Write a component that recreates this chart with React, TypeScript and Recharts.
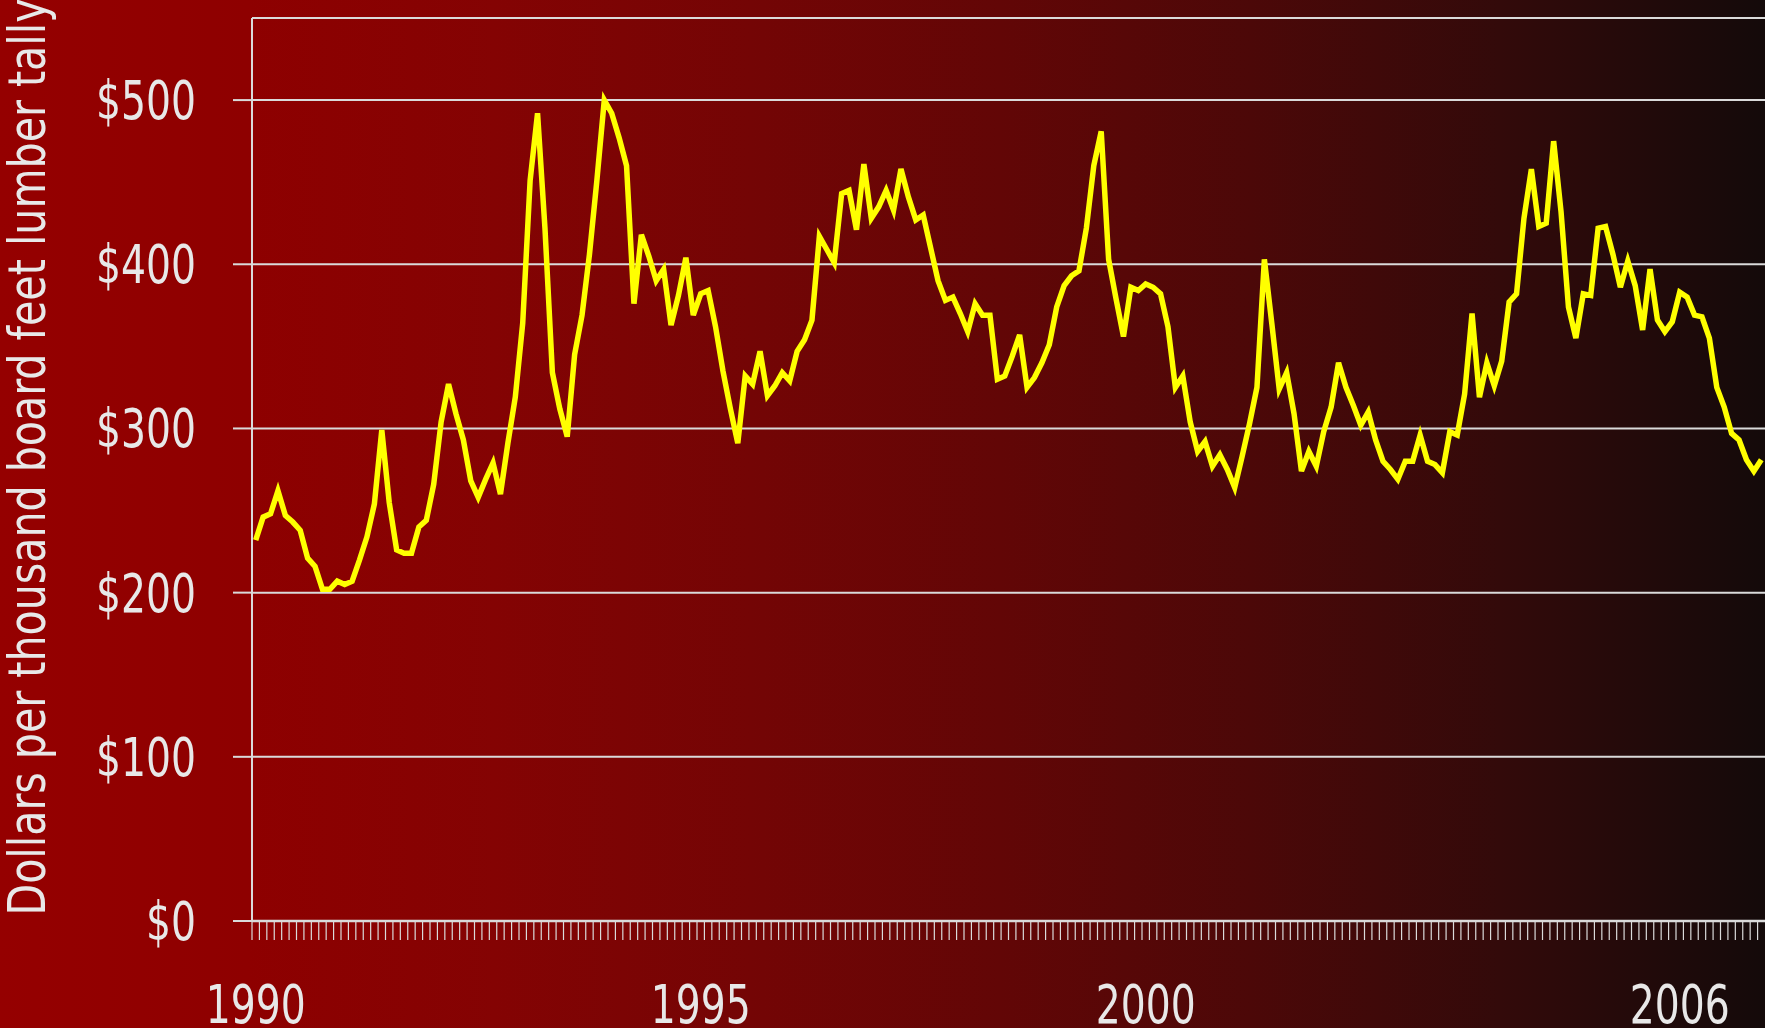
import React from 'react';
import {LineChart, Line, XAxis, YAxis, CartesianGrid, ReferenceLine, Label} from 'recharts';

// monthly lumber price, Jan 1990 .. Dec 2006
const startYear = 1990;
const prices = [
  232, 246, 248, 262, 247, 243, 238, 221, 216, 202, 202, 207,
  205, 207, 220, 234, 254, 299, 255, 226, 224, 224, 240, 244,
  266, 304, 327, 309, 293, 268, 258, 269, 279, 260, 291, 319,
  364, 451, 492, 422, 334, 312, 295, 345, 369, 406, 451, 500,
  492, 477, 460, 376, 418, 405, 390, 397, 363, 381, 404, 369,
  382, 384, 362, 335, 312, 291, 332, 327, 347, 320, 326, 334,
  329, 347, 354, 366, 417, 409, 401, 443, 445, 421, 461, 428,
  435, 445, 433, 458, 441, 427, 430, 410, 390, 378, 380, 370,
  359, 376, 369, 369, 330, 332, 344, 357, 325, 331, 340, 351,
  374, 387, 393, 396, 422, 460, 481, 403, 379, 356, 386, 384,
  388, 386, 382, 362, 325, 332, 304, 286, 292, 277, 284, 275,
  264, 283, 303, 325, 403, 364, 324, 334, 309, 274, 286, 277,
  298, 313, 340, 325, 314, 302, 310, 293, 280, 275, 269, 280,
  280, 296, 280, 278, 273, 298, 296, 321, 370, 319, 340, 326,
  341, 377, 382, 428, 458, 423, 425, 475, 432, 374, 355, 382,
  381, 422, 423, 406, 386, 402, 387, 360, 397, 366, 359, 365,
  383, 380, 369, 368, 355, 325, 313, 297, 293, 281, 274, 281,
];
const yearLabels = [1990, 1995, 2000, 2006];
const dollarTicks = [0, 100, 200, 300, 400, 500];
const yTitle = 'Dollars per thousand board feet lumber tally';

const data = prices.map((price, i) => ({month: i, price}));
const monthBounds = prices.map((_, i) => i - 0.5);
const yearPositions = yearLabels.map(y => (y - startYear) * 12);

const FONT = "'Liberation Sans Narrow', 'DejaVu Sans Condensed', Roboto, sans-serif";
const INK = '#e8e8e8';
const GRID = '#dadada';

const DollarTick = ({x, y, payload}: any) => {
  const s = `$${payload.value}`;
  return (
    <text
      x={x}
      y={y + 19}
      textAnchor="end"
      fill={INK}
      fontFamily={FONT}
      fontSize={54}
      textLength={s.length * 25}
      lengthAdjust="spacingAndGlyphs"
    >
      {s}
    </text>
  );
};

const YearTick = ({x, y, payload}: any) => (
  <text
    x={x}
    y={y + 72}
    textAnchor="middle"
    fill={INK}
    fontFamily={FONT}
    fontSize={54}
    textLength={100}
    lengthAdjust="spacingAndGlyphs"
  >
    {startYear + payload.value / 12}
  </text>
);

const renderTitle = () => (
  <text
    x={45}
    y={457}
    transform="rotate(-90 45 457)"
    textAnchor="middle"
    fill={INK}
    fontFamily={FONT}
    fontSize={52}
    textLength={917}
    lengthAdjust="spacingAndGlyphs"
  >
    {yTitle}
  </text>
);

export default function App() {
  return (
    <div
      style={{
        position: 'absolute',
        left: 0,
        top: 0,
        width: 1765,
        height: 1028,
        background:
          'linear-gradient(to right, #950000 0%, #8e0000 14%, #840303 28%, #740505 42.5%, #620606 56.7%, #4c0808 70.8%, #330a0a 85%, #140a0a 100%)',
      }}
    >
      <LineChart
        width={1765}
        height={1028}
        data={data}
        margin={{top: 18, right: 0, bottom: 0, left: 0}}
      >
        <CartesianGrid vertical={false} stroke={GRID} strokeWidth={2} />
        <XAxis
          dataKey="month"
          type="number"
          domain={[-0.5, 203.5]}
          ticks={monthBounds}
          interval={0}
          height={30}
          tickSize={19}
          tick={() => <g />}
          axisLine={{stroke: GRID, strokeWidth: 2.5}}
          tickLine={{stroke: GRID, strokeWidth: 1.2}}
        />
        <XAxis
          xAxisId="years"
          dataKey="month"
          type="number"
          domain={[-0.5, 203.5]}
          ticks={yearPositions}
          interval={0}
          height={77}
          axisLine={false}
          tickLine={false}
          tickSize={0}
          tickMargin={0}
          tick={<YearTick />}
        />
        <YAxis
          type="number"
          domain={[0, 550]}
          ticks={dollarTicks}
          interval={0}
          width={252}
          tickSize={19}
          tickMargin={37}
          axisLine={{stroke: GRID, strokeWidth: 2}}
          tickLine={{stroke: GRID, strokeWidth: 2}}
          tick={<DollarTick />}
        >
          <Label content={renderTitle} />
        </YAxis>
        <ReferenceLine y={550} stroke={GRID} strokeWidth={2} />
        <Line
          dataKey="price"
          type="linear"
          stroke="#ffff00"
          strokeWidth={5.5}
          dot={false}
          isAnimationActive={false}
        />
      </LineChart>
    </div>
  );
}
